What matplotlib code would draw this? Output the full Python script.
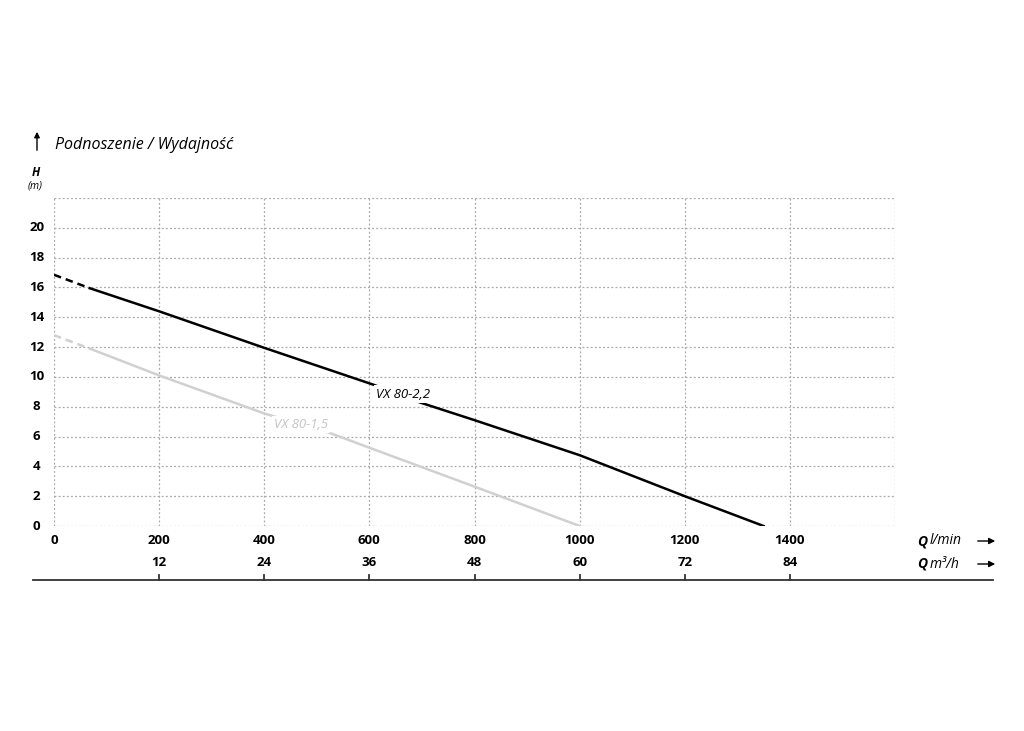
import matplotlib
matplotlib.use("Agg")
import matplotlib.pyplot as plt
import matplotlib.patches as mpatches
import matplotlib.transforms as mtransforms

plt.rcParams["font.family"] = ["Open Sans", "DejaVu Sans"]

# flow in l/min, head in m
q_22 = [0, 68, 200, 400, 610, 695, 800, 1000, 1200, 1350]
h_22 = [16.85, 15.95, 14.4, 11.95, 9.45, 8.3, 7.1, 4.75, 2.0, 0]
q_15 = [0, 68, 200, 400, 524, 600, 800, 1000]
h_15 = [12.8, 11.9, 10.1, 7.55, 6.25, 5.25, 2.64, 0]

x_ticks = [0, 200, 400, 600, 800, 1000, 1200, 1400]
y_ticks = [0, 2, 4, 6, 8, 10, 12, 14, 16, 18, 20]
m3h_ticks = [12, 24, 36, 48, 60, 72, 84]

W, H = 1024, 731
fig = plt.figure(figsize=(W / 100, H / 100), dpi=100)
ax = fig.add_axes([54 / W, (H - 526) / H, (895 - 54) / W, (526 - 198) / H])
ax.set_xlim(0, 1600)
ax.set_ylim(0, 22)
for s in ax.spines.values():
    s.set_visible(False)

grid_kw = dict(color="#a8a8a8", lw=0.9, ls=(0, (1.5, 1.8)), zorder=0)
for x in range(0, 1601, 200):
    ax.axvline(x, **grid_kw)
for y in range(0, 23, 2):
    ax.axhline(y, **grid_kw)

ax.set_xticks([])
ax.set_yticks([])

# curves: first segment dashed (extrapolated), rest solid
ax.plot(q_22[:2], h_22[:2], color="black", lw=1.8, ls=(0, (3, 2)), zorder=3)
ax.plot(q_22[1:], h_22[1:], color="black", lw=1.8, zorder=3)
ax.plot(q_15[:2], h_15[:2], color="#d0d0d0", lw=1.8, ls=(0, (3, 2)), zorder=2)
ax.plot(q_15[1:], h_15[1:], color="#d0d0d0", lw=1.8, zorder=2)

bb = dict(facecolor="white", edgecolor="none", pad=1.5)
ax.text(613, 8.85, "VX 80-2,2", style="italic", fontsize=9.5, color="black",
        va="center", ha="left", bbox=bb, zorder=4)
ax.text(418, 6.8, "VX 80-1,5", style="italic", fontsize=9.5, color="#c4c4c4",
        va="center", ha="left", bbox=bb, zorder=4)

# y tick labels
for y in y_ticks:
    ax.text(-33, y, str(y), ha="center", va="center", fontsize=9.5,
            fontweight="bold", clip_on=False)

# x tick labels (l/min)
tr = mtransforms.blended_transform_factory(ax.transData, fig.transFigure)
for x in x_ticks:
    ax.text(x, (H - 541) / H, str(x), transform=tr, ha="center", va="center",
            fontsize=9.5, fontweight="bold")

# m3/h axis
line_y = (H - 580) / H
fig.add_artist(plt.Line2D([33 / W, 993 / W], [line_y, line_y], color="#333333", lw=1.3))
for m in m3h_ticks:
    x = m / 0.06
    ax.plot([x, x], [line_y, line_y + 5 / H], transform=tr, color="#333333",
            lw=1.3, clip_on=False)
    ax.text(x, (H - 563) / H, str(m), transform=tr, ha="center", va="center",
            fontsize=9.5, fontweight="bold")

# axis captions
for yy, unit in ((541, "l/min"), (564, "m³/h")):
    fig.text(930 / W, (H - yy) / H, unit, style="italic", fontsize=10,
             ha="left", va="center")
    fig.text(927 / W, (H - yy) / H, "Q", style="italic", fontweight="bold",
             fontsize=10, ha="right", va="center")
    fig.add_artist(mpatches.FancyArrowPatch(
        (975 / W, (H - yy) / H), (998 / W, (H - yy) / H),
        transform=fig.transFigure, arrowstyle="-|>", mutation_scale=9,
        color="black", lw=1.0))

fig.add_artist(mpatches.FancyArrowPatch(
    (37 / W, (H - 153) / H), (37 / W, (H - 129) / H),
    transform=fig.transFigure, arrowstyle="-|>", mutation_scale=8,
    color="black", lw=1.0))
fig.text(55 / W, (H - 145) / H, "Podnoszenie / Wydajność", style="italic",
         fontsize=11.5, ha="left", va="center")
fig.text(36 / W, (H - 172) / H, "H", style="italic", fontweight="bold",
         fontsize=8.5, ha="center", va="center")
fig.text(35 / W, (H - 186) / H, "(m)", style="italic", fontsize=7.5,
         ha="center", va="center")

fig.savefig("out.png", dpi=100, facecolor="white")
